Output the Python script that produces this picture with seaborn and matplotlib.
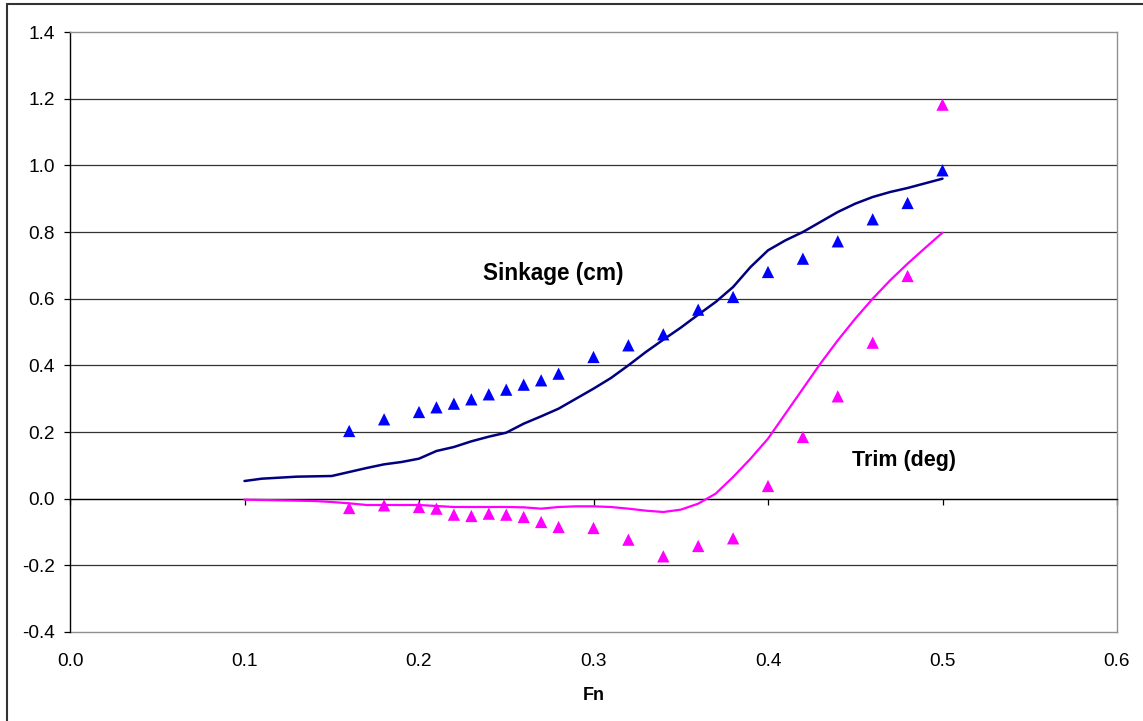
import matplotlib
matplotlib.use("Agg")
import matplotlib.pyplot as plt
from matplotlib.lines import Line2D
import seaborn as sns
import pandas as pd

# ---- data ----
fn_exp = [0.16, 0.18, 0.20, 0.21, 0.22, 0.23, 0.24, 0.25, 0.26, 0.27, 0.28,
          0.30, 0.32, 0.34, 0.36, 0.38, 0.40, 0.42, 0.44, 0.46, 0.48, 0.50]
sinkage_exp = [0.203, 0.238, 0.260, 0.274, 0.285, 0.298, 0.313, 0.327, 0.342, 0.355, 0.375,
               0.425, 0.460, 0.493, 0.567, 0.605, 0.680, 0.720, 0.772, 0.838, 0.887, 0.985]
trim_exp = [-0.028, -0.020, -0.025, -0.030, -0.048, -0.052, -0.045, -0.048, -0.055, -0.070, -0.085,
            -0.088, -0.123, -0.173, -0.142, -0.119, 0.038, 0.185, 0.307, 0.468, 0.668, 1.182]

fn_calc = [0.10, 0.11, 0.12, 0.13, 0.14, 0.15, 0.16, 0.17, 0.18, 0.19, 0.20,
           0.21, 0.22, 0.23, 0.24, 0.25, 0.26, 0.27, 0.28, 0.29, 0.30,
           0.31, 0.32, 0.33, 0.34, 0.35, 0.36, 0.37, 0.38, 0.39, 0.40,
           0.41, 0.42, 0.43, 0.44, 0.45, 0.46, 0.47, 0.48, 0.49, 0.50]
sinkage_calc = [0.053, 0.060, 0.063, 0.066, 0.067, 0.068, 0.080, 0.092, 0.103, 0.110, 0.120,
                0.143, 0.155, 0.172, 0.186, 0.198, 0.225, 0.247, 0.270, 0.300, 0.330,
                0.362, 0.400, 0.440, 0.477, 0.513, 0.552, 0.590, 0.635, 0.695, 0.745,
                0.775, 0.800, 0.830, 0.860, 0.885, 0.905, 0.920, 0.932, 0.946, 0.960]
trim_calc = [-0.003, -0.004, -0.005, -0.006, -0.007, -0.010, -0.014, -0.019, -0.019, -0.019, -0.019,
             -0.022, -0.025, -0.025, -0.025, -0.025, -0.026, -0.030, -0.025, -0.023, -0.023,
             -0.025, -0.030, -0.036, -0.040, -0.033, -0.015, 0.015, 0.065, 0.120, 0.180,
             0.255, 0.330, 0.405, 0.475, 0.540, 0.600, 0.655, 0.705, 0.752, 0.798]

x_ticks = [0.0, 0.1, 0.2, 0.3, 0.4, 0.5, 0.6]
y_ticks = [-0.4, -0.2, 0.0, 0.2, 0.4, 0.6, 0.8, 1.0, 1.2, 1.4]

label_sink = "Sinkage (cm)"
label_trim = "Trim (deg)"
x_label = "Fn"

exp_df = pd.DataFrame({"Fn": fn_exp, "sink": sinkage_exp, "trim": trim_exp})
calc_df = pd.DataFrame({"Fn": fn_calc, "sink": sinkage_calc, "trim": trim_calc})

# ---- style ----
sns.set_style("white")
plt.rcParams["font.family"] = ["Liberation Sans", "DejaVu Sans"]
plt.rcParams["text.color"] = "black"
plt.rcParams["axes.labelcolor"] = "black"
plt.rcParams["xtick.color"] = "black"
plt.rcParams["ytick.color"] = "black"
plt.rcParams["xtick.labelcolor"] = "black"
plt.rcParams["ytick.labelcolor"] = "black"

fig = plt.figure(figsize=(11.43, 7.21), dpi=100)
ax = fig.add_axes([70 / 1143, 1 - 632 / 721, (1117 - 70) / 1143, (632 - 32) / 721])

# gridlines
for yv in y_ticks[1:-1]:
    ax.axhline(yv, color="#333333", lw=0.9, zorder=0)

sns.lineplot(data=calc_df, x="Fn", y="sink", color="#000080", lw=1.8,
             estimator=None, sort=True, ax=ax, zorder=3)
sns.lineplot(data=calc_df, x="Fn", y="trim", color="#FF00FF", lw=1.6,
             estimator=None, sort=True, ax=ax, zorder=3)
sns.scatterplot(data=exp_df, x="Fn", y="sink", marker="^", color="#0000FF",
                s=78, edgecolor="none", ax=ax, zorder=4)
sns.scatterplot(data=exp_df, x="Fn", y="trim", marker="^", color="#FF00FF",
                s=78, edgecolor="none", ax=ax, zorder=4)

ax.set_xlim(0, 0.6)
ax.set_ylim(-0.4, 1.4)
ax.set_yticks(y_ticks)
ax.set_yticklabels([f"{v:.1f}" for v in y_ticks])
ax.tick_params(axis="y", direction="out", length=4.3, width=0.9, color="black",
               labelcolor="black", labelsize=13.7, pad=6.5, left=True)

# x axis crosses at y = 0 with tick marks; labels at the bottom
ax.set_xticks(x_ticks)
ax.spines["bottom"].set_position(("data", 0))
ax.spines["bottom"].set_color("black")
ax.spines["bottom"].set_linewidth(0.9)
ax.tick_params(axis="x", direction="out", length=4, width=0.9, color="black",
               labelbottom=False, bottom=True)
ax.spines["left"].set_color("black")
ax.spines["left"].set_linewidth(1.0)
for s in ["top", "right"]:
    ax.spines[s].set_color("#909090")
    ax.spines[s].set_linewidth(1.0)
    ax.spines[s].set_visible(True)

sec = ax.secondary_xaxis("bottom")
sec.set_xticks(x_ticks)
sec.set_xticklabels([f"{v:.1f}" for v in x_ticks])
sec.tick_params(length=0, labelsize=13.7, pad=15, labelcolor="black")
sec.spines["bottom"].set_color("#909090")
sec.spines["bottom"].set_linewidth(1.0)
sec.set_xlabel(x_label, fontsize=13, fontweight="bold", labelpad=12, color="black")

ax.set_xlabel("")
ax.set_ylabel("")

ax.text(0.2772, 0.676, label_sink, ha="center", va="center",
        fontsize=16.3, fontweight="bold", color="black")
ax.text(0.478, 0.115, label_trim, ha="center", va="center",
        fontsize=15.5, fontweight="bold", color="black")

# outer chart border (top and left visible)
fig.add_artist(Line2D([7 / 1143, 7 / 1143], [0, 1 - 4 / 721], transform=fig.transFigure,
                      color="#333333", lw=1.5))
fig.add_artist(Line2D([7 / 1143, 1], [1 - 4 / 721, 1 - 4 / 721], transform=fig.transFigure,
                      color="#333333", lw=1.5))

fig.savefig("out.png", dpi=100)
